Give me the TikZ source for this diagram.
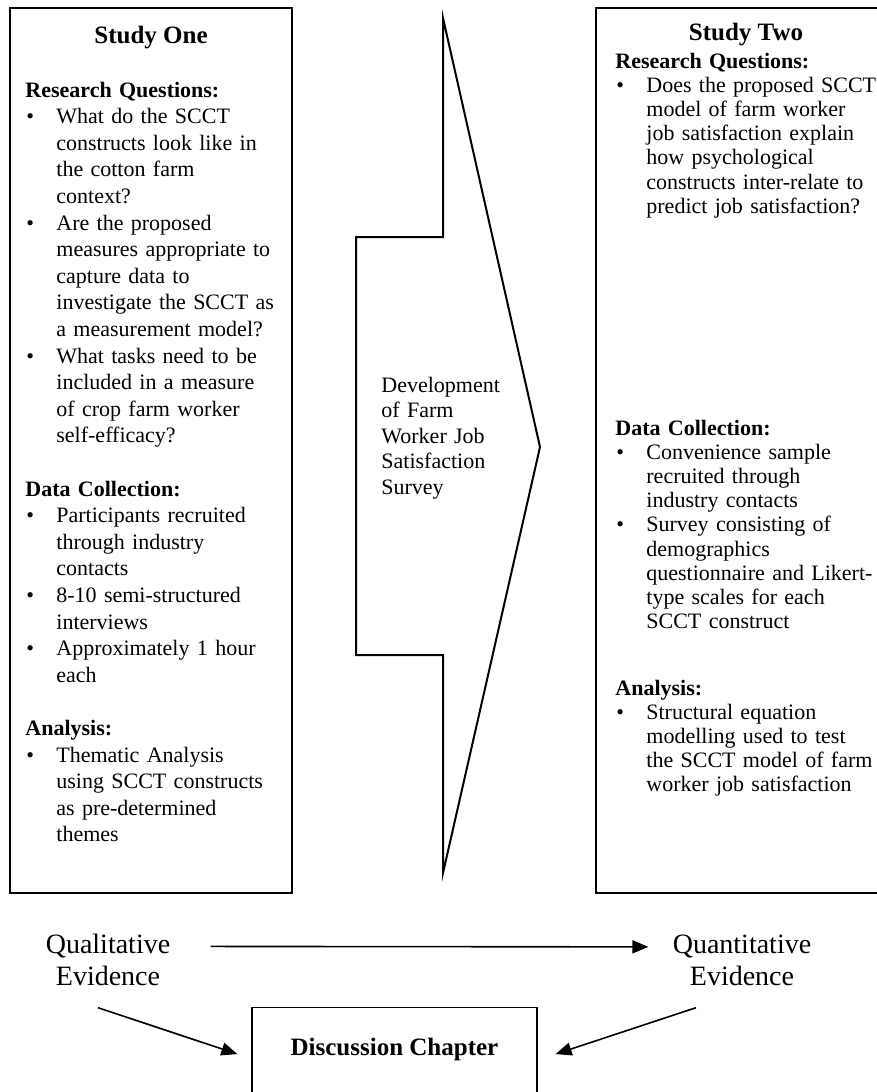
\documentclass[tikz,border=0pt]{standalone}
\usepackage{fontspec}
\setmainfont{Liberation Serif}
\usepackage{tikz}
\usetikzlibrary{arrows.meta}
\tikzstyle{studybox}=[draw,line width=0.6pt,minimum height=442.5pt,inner sep=0pt]
\tikzstyle{heading}=[anchor=base,inner sep=0pt,font=\fontsize{12.5}{15}\selectfont\bfseries]
\tikzstyle{body}=[anchor=base west,inner sep=0pt,align=left,text width=140pt]
\tikzstyle{evidence}=[anchor=base,inner sep=0pt,align=center,font=\fontsize{14}{16}\selectfont]
\tikzstyle{link}=[-{Triangle[length=8pt,width=6.5pt]},line width=0.8pt]
\newcommand{\bul}{\makebox[15.5pt][l]{\hspace{0.5pt}\textbullet}}
\newcommand{\cont}{\hspace*{15.5pt}}

\begin{document}
\begin{tikzpicture}[x=0.5pt,y=-0.5pt]
\clip (0,0) rectangle (877,1092);
%study boxes
\node[studybox,minimum width=141pt] (one) at (151,450.5) {};
\node[studybox,minimum width=152pt] (two) at (748,450.5) {};
\node[heading] (oneTitle) at (151,43) {Study One};
\node[heading] (twoTitle) at (746,40) {Study Two};
%study one text
\node[body,font=\fontsize{11}{13.3}\selectfont] (oneText) at (25,97) {%
\textbf{Research Questions:}\\
\bul What do the SCCT\\
\cont constructs look like in\\
\cont the cotton farm\\
\cont context?\\
\bul Are the proposed\\
\cont measures appropriate to\\
\cont capture data to\\
\cont investigate the SCCT as\\
\cont a measurement model?\\
\bul What tasks need to be\\
\cont included in a measure\\
\cont of crop farm worker\\
\cont self-efficacy?\\[13.3pt]
\textbf{Data Collection:}\\
\bul Participants recruited\\
\cont through industry\\
\cont contacts\\
\bul 8-10 semi-structured\\
\cont interviews\\
\bul Approximately 1 hour\\
\cont each\\[13.3pt]
\textbf{Analysis:}\\
\bul Thematic Analysis\\
\cont using SCCT constructs\\
\cont as pre-determined\\
\cont themes};
%study two text
\node[body,font=\fontsize{11}{12.1}\selectfont] (twoRQ) at (615,68) {%
\textbf{Research Questions:}\\
\bul Does the proposed SCCT\\
\cont model of farm worker\\
\cont job satisfaction explain\\
\cont how psychological\\
\cont constructs inter-relate to\\
\cont predict job satisfaction?};
\node[body,font=\fontsize{11}{12.1}\selectfont] (twoDC) at (615,435) {%
\textbf{Data Collection:}\\
\bul Convenience sample\\
\cont recruited through\\
\cont industry contacts\\
\bul Survey consisting of\\
\cont demographics\\
\cont questionnaire and Likert-\\
\cont type scales for each\\
\cont SCCT construct};
\node[body,font=\fontsize{11}{12.1}\selectfont] (twoAN) at (615,695) {%
\textbf{Analysis:}\\
\bul Structural equation\\
\cont modelling used to test\\
\cont the SCCT model of farm\\
\cont worker job satisfaction};
%arrow between studies
\draw[line width=1pt] (443,18) -- (540,447) -- (443,873) -- (443,655)
  -- (356,655) -- (356,237) -- (443,237) -- cycle;
\node[body,text width=70pt,font=\fontsize{11}{12.8}\selectfont] (dev) at (381,392)
  {Development\\ of Farm\\ Worker Job\\ Satisfaction\\ Survey};
%evidence and discussion
\node[evidence] (qual) at (108,985) {Qualitative\\ Evidence};
\node[evidence] (quant) at (742,985) {Quantitative\\ Evidence};
\node[draw,line width=0.6pt,anchor=north,minimum width=142.5pt,inner sep=0pt,
  text height=24pt,text depth=22.5pt,font=\fontsize{12.5}{15}\selectfont\bfseries]
  (disc) at (394.5,1007) {Discussion Chapter};
\draw[link] ([xshift=20pt,yshift=6.5pt]qual.east) -- ([xshift=-12pt,yshift=6.5pt]quant.west);
\draw[link] ([xshift=-5pt,yshift=-11pt]qual.south) -- ([xshift=-7pt]disc.west);
\draw[link] ([xshift=-23pt,yshift=-11pt]quant.south) -- ([xshift=9pt]disc.east);
\end{tikzpicture}
\end{document}
